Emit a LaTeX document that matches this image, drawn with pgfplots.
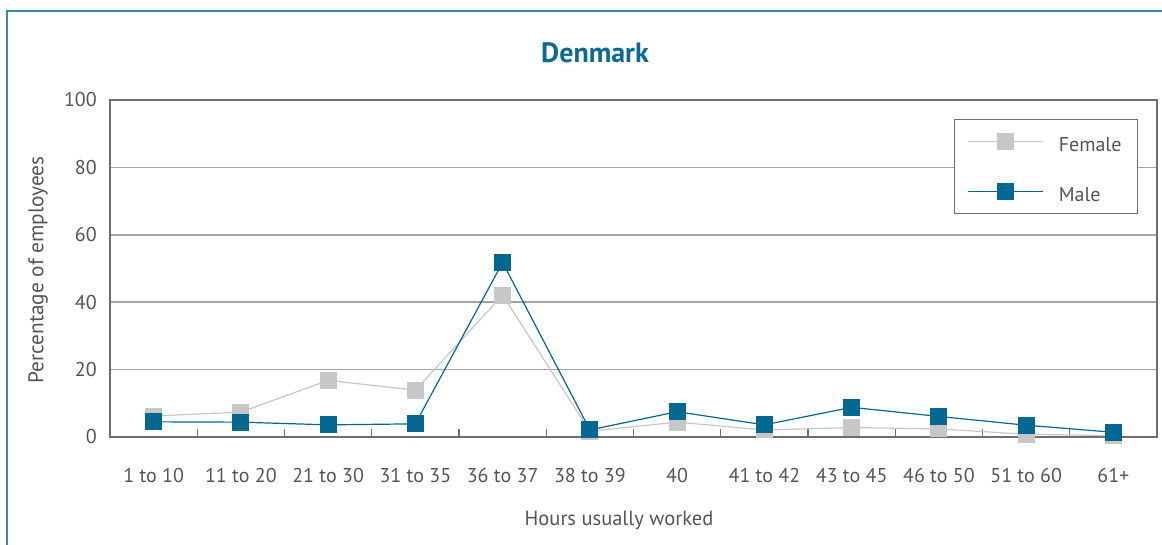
\documentclass[border=0pt]{standalone}
\usepackage{pgfplots}
\pgfplotsset{compat=1.18}
\usepackage{fontspec}
\setmainfont{PT Sans}
\definecolor{maleblue}{HTML}{006891}
\definecolor{femalegray}{HTML}{C6C7C9}
\definecolor{titleblue}{HTML}{0B6A94}
\definecolor{framecol}{HTML}{3E88B0}
\definecolor{axisgray}{HTML}{6E6E6E}
\definecolor{gridgray}{HTML}{A3A3A3}
\definecolor{textgray}{HTML}{555555}
\begin{document}
\begin{tikzpicture}
\useasboundingbox (0pt,0pt) rectangle (1162pt,545pt);
\draw[framecol, line width=1.6pt] (7pt,0pt) -- (7pt,534pt) -- (1162pt,534pt);
\node[font=\fontsize{28}{32}\selectfont\bfseries, text=titleblue] at (595pt,492pt) {Denmark};
\node[font=\fontsize{20.5}{24}\selectfont, text=textgray] at (619pt,25pt) {Hours usually worked};
\node[font=\fontsize{21.3}{25}\selectfont, text=textgray, rotate=90] at (38pt,275pt) {Percentage of employees};
\begin{axis}[
  at={(110pt,108pt)}, anchor=south west,
  width=1047pt, height=337pt, scale only axis,
  xmin=-0.5, xmax=11.5, ymin=0, ymax=100,
  xtick={0,...,11},
  xticklabels={1 to 10, 11 to 20, 21 to 30, 31 to 35, 36 to 37, 38 to 39, 40, 41 to 42, 43 to 45, 46 to 50, 51 to 60, 61+},
  minor xtick={0.5,1.5,...,10.5},
  ytick={0,20,...,100},
  major tick length=0pt,
  minor tick length=8pt,
  tick pos=left,
  tick align=inside,
  minor tick style={draw=axisgray, line width=1.3pt},
  axis line style={draw=axisgray, line width=1.3pt},
  ymajorgrids,
  major grid style={draw=gridgray, line width=1.5pt},
  /pgf/number format/assume math mode=true,
  ticklabel style={font=\fontsize{20}{24}\selectfont, text=textgray},
  yticklabel style={inner sep=0pt, xshift=-13pt},
  xticklabel style={inner sep=0pt, yshift=-31pt},
  legend style={at={(rel axis cs:0.9818,0.9436)}, anchor=north east,
    draw=axisgray, line width=1pt, fill=white,
    font=\fontsize{20}{24}\selectfont, text=textgray,
    inner xsep=13pt, inner ysep=6pt, row sep=18pt,
    nodes={inner sep=3pt, text height=23pt, text depth=3pt},
    /tikz/every odd column/.append style={column sep=12pt}},
  legend cell align=left,
  legend image code/.code={\draw[mark repeat=2,mark phase=2,#1] plot coordinates {(0pt,0pt) (37.5pt,0pt) (75pt,0pt)};},
]
\addplot[color=femalegray, line width=1.2pt, mark=square*, mark size=8pt,
  mark options={fill=femalegray, draw=femalegray, line width=0pt}]
  coordinates {(0,6.2) (1,7.4) (2,16.8) (3,13.9) (4,42.1) (5,1.7) (6,4.4) (7,2.1) (8,2.8) (9,2.4) (10,0.8) (11,0.4)};
\addlegendentry{Female}
\addplot[color=maleblue, line width=1.2pt, mark=square*, mark size=8pt,
  mark options={fill=maleblue, draw=maleblue, line width=0pt}]
  coordinates {(0,4.5) (1,4.4) (2,3.6) (3,3.9) (4,51.8) (5,2.1) (6,7.5) (7,3.6) (8,8.8) (9,6.1) (10,3.5) (11,1.4)};
\addlegendentry{Male}
\end{axis}
\end{tikzpicture}
\end{document}
